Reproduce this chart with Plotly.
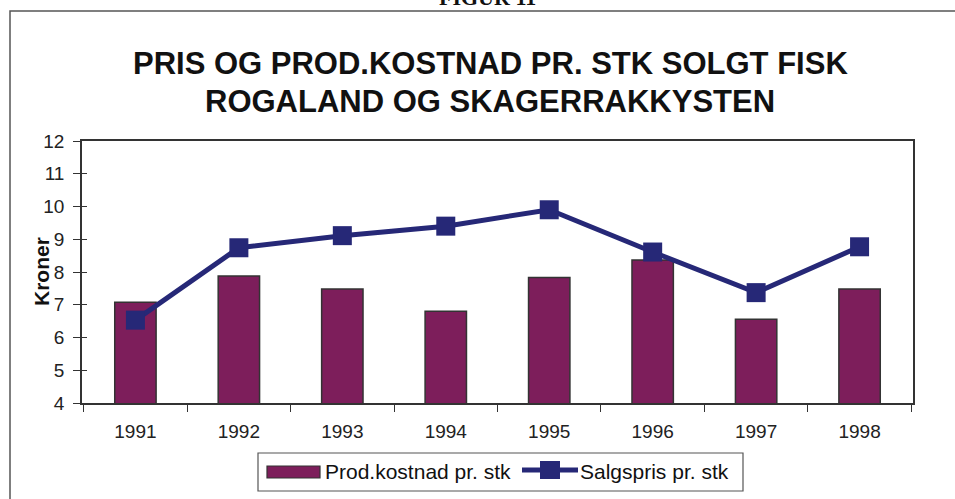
import plotly.graph_objects as go

years = ["1991", "1992", "1993", "1994", "1995", "1996", "1997", "1998"]
prod_kostnad = [7.08, 7.88, 7.48, 6.80, 7.83, 8.37, 6.56, 7.48]
salgspris = [6.53, 8.74, 9.11, 9.40, 9.90, 8.61, 7.37, 8.77]

bar_name = "Prod.kostnad pr. stk"
line_name = "Salgspris pr. stk"
y_title = "Kroner"
title_1 = "PRIS OG PROD.KOSTNAD PR. STK SOLGT FISK"
title_2 = "ROGALAND OG SKAGERRAKKYSTEN"
fig_label = "FIGUR 11"

BAR_COLOR = "#7D1E5B"
LINE_COLOR = "#262877"
EDGE = "#333333"
FONT = "Arial, Liberation Sans, sans-serif"

W, H = 955, 499
L, R, T, B = 82, 913, 141, 403


def px_x(x):
    return (x - L) / (R - L)


def px_y(y):
    return (B - y) / (B - T)


fig = go.Figure()
fig.add_trace(go.Bar(
    x=years, y=prod_kostnad, name=bar_name,
    marker=dict(color=BAR_COLOR, line=dict(color=EDGE, width=1.5)),
    showlegend=False,
))
fig.add_trace(go.Scatter(
    x=years, y=salgspris, name=line_name, mode="lines+markers",
    line=dict(color=LINE_COLOR, width=5),
    marker=dict(symbol="square", size=19, color=LINE_COLOR),
    showlegend=False,
))
# invisible trace to host the inner tick marks axis
fig.add_trace(go.Scatter(x=[years[0]], y=[None], yaxis="y2", showlegend=False,
                         hoverinfo="skip"))

shapes = []
annotations = []

# outer frame
shapes.append(dict(type="rect", xref="paper", yref="paper",
                   x0=px_x(10), x1=px_x(1000), y0=px_y(560), y1=px_y(11),
                   line=dict(color="#555555", width=1.5), layer="below"))

annotations.append(dict(text="<b>" + fig_label + "</b>", xref="paper", yref="paper",
                        x=px_x(487), y=px_y(-2), showarrow=False,
                        xanchor="center", yanchor="middle",
                        font=dict(family="Liberation Serif, Times New Roman, serif",
                                  size=22, color="#111111")))
annotations.append(dict(text="<b>" + title_1 + "</b>", xref="paper", yref="paper",
                        x=px_x(490), y=px_y(63), showarrow=False,
                        xanchor="center", yanchor="middle",
                        font=dict(family=FONT, size=31, color="#111111")))
annotations.append(dict(text="<b>" + title_2 + "</b>", xref="paper", yref="paper",
                        x=px_x(490), y=px_y(102), showarrow=False,
                        xanchor="center", yanchor="middle",
                        font=dict(family=FONT, size=31, color="#111111")))
annotations.append(dict(text="<b>" + y_title + "</b>", xref="paper", yref="paper",
                        x=px_x(41), y=px_y(272), showarrow=False, textangle=-90,
                        xanchor="center", yanchor="middle",
                        font=dict(family=FONT, size=21, color="#111111")))

# legend (drawn)
shapes.append(dict(type="rect", xref="paper", yref="paper",
                   x0=px_x(258), x1=px_x(743), y0=px_y(491), y1=px_y(453),
                   line=dict(color="#555555", width=1.2), fillcolor="white"))
shapes.append(dict(type="rect", xref="paper", yref="paper",
                   x0=px_x(267), x1=px_x(320), y0=px_y(478), y1=px_y(466),
                   line=dict(color=EDGE, width=1.2), fillcolor=BAR_COLOR))
shapes.append(dict(type="line", xref="paper", yref="paper",
                   x0=px_x(522), x1=px_x(578), y0=px_y(470), y1=px_y(470),
                   line=dict(color=LINE_COLOR, width=5)))
shapes.append(dict(type="rect", xref="paper", yref="paper",
                   x0=px_x(540), x1=px_x(560), y0=px_y(479), y1=px_y(461),
                   line=dict(color=LINE_COLOR, width=0), fillcolor=LINE_COLOR))
annotations.append(dict(text=bar_name, xref="paper", yref="paper",
                        x=px_x(323), y=px_y(471), showarrow=False,
                        xanchor="left", yanchor="middle",
                        font=dict(family=FONT, size=21, color="#111111")))
annotations.append(dict(text=line_name, xref="paper", yref="paper",
                        x=px_x(578), y=px_y(471), showarrow=False,
                        xanchor="left", yanchor="middle",
                        font=dict(family=FONT, size=21, color="#111111")))

fig.update_layout(
    width=W, height=H,
    margin=dict(l=L, r=W - R, t=T, b=H - B, pad=0),
    paper_bgcolor="white", plot_bgcolor="white",
    bargap=0.6,
    font=dict(family=FONT, color="#111111"),
    shapes=shapes, annotations=annotations,
    xaxis=dict(type="category", tickson="boundaries", ticks="outside", ticklen=7,
               tickcolor=EDGE, tickwidth=1.2, showline=True, linecolor=EDGE,
               linewidth=1.5, mirror=True, showgrid=False,
               tickfont=dict(size=19, color="#222222"), ticklabelstandoff=10),
    yaxis=dict(range=[4, 12], dtick=1, ticks="outside", ticklen=7, tickcolor=EDGE,
               tickwidth=1.2, showline=True, linecolor=EDGE, linewidth=1.5,
               mirror=True, showgrid=False, zeroline=False,
               tickfont=dict(size=19, color="#222222"), ticklabelstandoff=5),
    yaxis2=dict(range=[4, 12], dtick=1, overlaying="y", side="left", ticks="inside",
                ticklen=5, tickcolor=EDGE, tickwidth=1.2, showticklabels=False,
                showline=False, showgrid=False, zeroline=False),
)

fig.write_html("out.html", config={"displayModeBar": False},
               post_script="document.body.style.margin='0px';")
